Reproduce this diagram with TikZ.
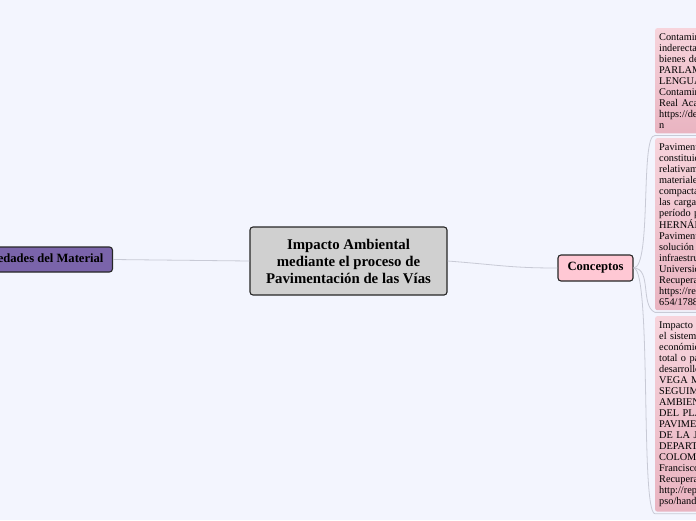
\documentclass[tikz,border=0pt]{standalone}
\usepackage{fontspec}
\setmainfont{Liberation Serif}

\definecolor{bgcol}{RGB}{243,245,254}
\definecolor{linecol}{RGB}{200,202,214}
\definecolor{centrecol}{RGB}{208,208,208}
\definecolor{purplecol}{RGB}{122,100,170}
\definecolor{pinkcol}{RGB}{255,200,212}
\definecolor{notetop}{RGB}{247,212,220}
\definecolor{notebot}{RGB}{233,180,193}

\begin{document}
\begin{tikzpicture}[x=1pt,y=-1pt,
    topic/.style={draw=black!85,line width=1.1pt,rounded corners=3pt,inner xsep=9pt,font=\bfseries\fontsize{12.6}{15}\selectfont},
    note/.style={anchor=north west,rounded corners=2pt,top color=notetop,bottom color=notebot,
      align=left,text width=130pt,inner xsep=4pt,inner ysep=5pt,font=\fontsize{10.3}{11}\selectfont},
    link/.style={draw=linecol,line width=0.8pt}]
    \useasboundingbox (0,0) rectangle (696,520);
    \fill[bgcol] (0,0) rectangle (696,520);
    \clip (0,0) rectangle (696,520);

    % main topics
    \node[topic,fill=centrecol,align=center,minimum width=197pt,minimum height=68pt,
      font=\bfseries\fontsize{14.8}{17}\selectfont] (centre) at (348.5,261)
      {Impacto Ambiental\\mediante el proceso de\\Pavimentación de las Vías};
    \node[topic,fill=purplecol,anchor=east,minimum height=25pt] (props) at (113,259.5) {Propiedades del Material};
    \node[topic,fill=pinkcol,minimum width=75pt,minimum height=26pt] (concepts) at (595.5,268) {Conceptos};

    % notes
    \node[note] (contam) at (655,28) {Contaminación: alteración\\inderecta, de los\\bienes del medio\\PARLAMENTO DE LA\\LENGUA ESPAÑOLA.\\Contaminación.\\Real Academia\\https://dej.rae.es/\\n};
    \node[note] (pavim) at (655,138) {Pavimento: estructura\\constituida por capas\\relativamente\\materiales\\compactados\\las cargas\\período proyectado\\HERNÁNDEZ\\Pavimentos\\solución a\\infraestructura\\Universidad\\Recuperado de\\https://repositorio\\654/17883};
    \node[note] (impact) at (655,316) {Impacto Ambiental:\\el sistema\\económico\\total o parcial\\desarrollo\\VEGA MARTÍNEZ\\SEGUIMIENTO\\AMBIENTAL\\DEL PLAN\\PAVIMENTACIÓN\\DE LA JAGUA\\DEPARTAMENTO\\COLOMBIA\\Francisco\\Recuperado de\\http://repository\\pso/handle};

    % connectors
    \draw[link] (centre.west) -- (props.east);
    \draw[link] (centre.east) .. controls (500,265) and (510,268) .. (concepts.west);
    \draw[link] (concepts.east) .. controls (652,268) and (640,133) .. ([yshift=-2pt]contam.south west) -- ([yshift=-2pt]contam.south east);
    \draw[link] (concepts.east) .. controls (652,268) and (640,306) .. ([yshift=-2pt]pavim.south west) -- ([yshift=-2pt]pavim.south east);
    \draw[link] (concepts.east) .. controls (652,268) and (640,513) .. ([yshift=-2pt]impact.south west) -- ([yshift=-2pt]impact.south east);
\end{tikzpicture}
\end{document}
